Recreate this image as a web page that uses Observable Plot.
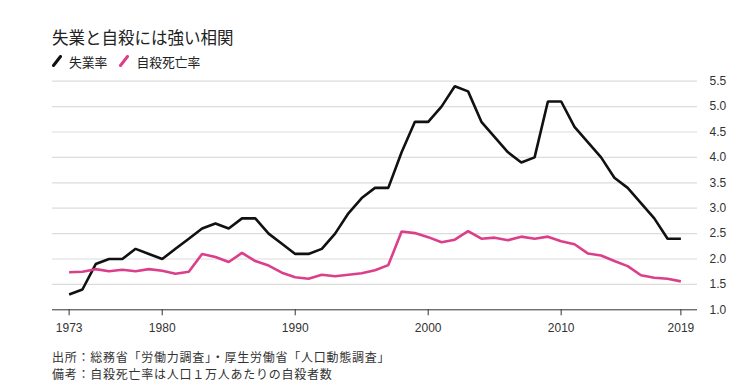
<!DOCTYPE html>
<html lang="ja">
<head>
<meta charset="utf-8">
<script src="https://cdn.jsdelivr.net/npm/d3@7"></script>
<script src="https://cdn.jsdelivr.net/npm/@observablehq/plot@0.6"></script>
<style>
  html, body { margin: 0; padding: 0; background: #fff; }
  body { font-family: "Liberation Sans", "Noto Sans CJK JP", sans-serif; color: #222; }
  #wrap { position: relative; width: 750px; height: 391px; overflow: hidden; }
  #title { position: absolute; left: 52px; top: 27px; font-size: 16.5px; line-height: 20px; font-family: "Noto Sans CJK JP", sans-serif; color: #222; }
  #legend { position: absolute; left: 52px; top: 52px; height: 18px; display: flex; align-items: center; font-size: 12.8px; font-family: "Noto Sans CJK JP", sans-serif; color: #222; }
  #legend .item { display: flex; align-items: center; margin-right: 12px; }
  #legend svg { margin-right: 7px; }
  #chart { position: absolute; left: 0; top: 70px; }
  #caption { position: absolute; left: 52px; top: 347.5px; font-size: 12px; letter-spacing: 0.75px; line-height: 17.5px; font-family: "Noto Sans CJK JP", sans-serif; color: #333; }
  #caption div { white-space: nowrap; }
</style>
</head>
<body>
<div id="wrap">
  <div id="title">失業と自殺には強い相関</div>
  <div id="legend"></div>
  <div id="chart"></div>
  <div id="caption"><div>出所：総務省「労働力調査」・厚生労働省「人口動態調査」</div><div>備考：自殺死亡率は人口１万人あたりの自殺者数</div></div>
</div>
<script>
const years = d3.range(1973, 2020);
const unemployment = [1.3, 1.4, 1.9, 2.0, 2.0, 2.2, 2.1, 2.0, 2.2, 2.4,
  2.6, 2.7, 2.6, 2.8, 2.8, 2.5, 2.3, 2.1, 2.1, 2.2,
  2.5, 2.9, 3.2, 3.4, 3.4, 4.1, 4.7, 4.7, 5.0, 5.4,
  5.3, 4.7, 4.4, 4.1, 3.9, 4.0, 5.1, 5.1, 4.6, 4.3,
  4.0, 3.6, 3.4, 3.1, 2.8, 2.4, 2.4];
const suicide = [1.74, 1.75, 1.80, 1.76, 1.79, 1.76, 1.80, 1.77, 1.71, 1.75,
  2.10, 2.04, 1.94, 2.12, 1.96, 1.87, 1.73, 1.64, 1.61, 1.69,
  1.66, 1.69, 1.72, 1.78, 1.88, 2.54, 2.51, 2.43, 2.33, 2.38,
  2.55, 2.40, 2.42, 2.37, 2.44, 2.40, 2.44, 2.35, 2.29, 2.11,
  2.07, 1.96, 1.86, 1.68, 1.63, 1.61, 1.56];
const seriesNames = ["失業率", "自殺死亡率"];
const seriesColors = ["#111111", "#dc3f8a"];
const xTicks = [1973, 1980, 1990, 2000, 2010, 2019];
const yTicks = [1.0, 1.5, 2.0, 2.5, 3.0, 3.5, 4.0, 4.5, 5.0, 5.5];

const rows = [];
years.forEach((y, i) => {
  rows.push({year: y, value: unemployment[i], series: seriesNames[0]});
  rows.push({year: y, value: suicide[i], series: seriesNames[1]});
});

// legend
const legend = document.getElementById("legend");
seriesNames.forEach((name, i) => {
  const item = document.createElement("div");
  item.className = "item";
  item.innerHTML = `<svg width="10" height="12"><line x1="1.5" y1="10.5" x2="8.5" y2="1.5" stroke="${seriesColors[i]}" stroke-width="3" stroke-linecap="round"/></svg><span>${name}</span>`;
  legend.appendChild(item);
});

const chart = Plot.plot({
  width: 750,
  height: 270,
  marginLeft: 52,
  marginRight: 53,
  marginTop: 10.7,
  marginBottom: 30.7,
  style: {fontFamily: '"Liberation Sans", "Noto Sans CJK JP", sans-serif', fontSize: "12px", color: "#333", background: "transparent"},
  x: {domain: [1971.75, 2020.25], axis: null, label: null},
  y: {domain: [1, 5.5], axis: null, label: null},
  color: {domain: seriesNames, range: seriesColors},
  marks: [
    Plot.gridY(yTicks.filter(d => d > 1), {stroke: "#dcdcdc", strokeOpacity: 1, strokeWidth: 1.2}),
    Plot.ruleY([1], {stroke: "#333", strokeWidth: 1}),
    Plot.axisX(xTicks, {label: null, tickSize: 6, tickPadding: 8, tickFormat: d => String(d), stroke: "#333", fill: "#333"}),
    Plot.axisY(yTicks, {label: null, anchor: "right", tickSize: 0, tickPadding: 12, tickFormat: d3.format(".1f"), fill: "#333"}),
    Plot.lineY(rows, {x: "year", y: "value", stroke: "series", z: "series", strokeWidth: 2.6, strokeLinejoin: "miter", strokeLinecap: "butt"})
  ]
});
document.getElementById("chart").appendChild(chart);
</script>
</body>
</html>
